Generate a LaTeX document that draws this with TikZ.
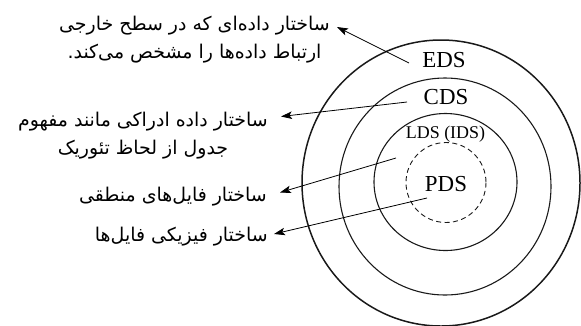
\documentclass[tikz,border=0pt]{standalone}
\usepackage{fontspec}
\setmainfont{Liberation Serif}
\newfontfamily\fafont[Script=Arabic]{DejaVu Sans}
\TeXXeTstate=1
\usetikzlibrary{arrows.meta}

\tikzset{
  ring/.style={draw=black!90, line width=1.1pt},
  outerring/.style={draw=black!90, line width=1.5pt},
  corering/.style={draw=black!90, line width=0.9pt, dash pattern=on 5pt off 3.5pt},
  layer/.style={font=\fontsize{23}{23}\selectfont, inner sep=0pt},
  smalllayer/.style={font=\fontsize{18}{18}\selectfont, inner sep=0pt},
  desc/.style={font=\fafont\fontsize{19}{28}\selectfont, align=center, inner sep=0pt},
  pointer/.style={draw=black, line width=0.8pt, -{Stealth[length=11pt, width=7.5pt, inset=2.5pt]}}
}

\begin{document}
\begin{tikzpicture}[x=1bp, y=-1bp]
  \useasboundingbox (0,0) rectangle (581,325);

  % nested data-structure rings
  \draw[outerring] (441,183) ellipse [x radius=139, y radius=143];
  \draw[ring] (445,186.5) ellipse [x radius=106, y radius=108.5];
  \draw[ring] (445.5,182) ellipse [x radius=71.5, y radius=68.5];
  \draw[corering] (446,182.5) circle [radius=40];

  % ring labels
  \node[layer] (eds) at (444,60) {EDS};
  \node[layer] (cds) at (446,97.5) {CDS};
  \node[smalllayer] (lds) at (445.5,134) {LDS (IDS)};
  \node[layer] (pds) at (446,184.5) {PDS};

  % descriptions
  \node[desc, anchor=east] (dext) at (330,40) {\beginR ساختار داده‌ای که در سطح خارجی\endR\\\beginR ارتباط داده‌ها را مشخص می‌کند.\endR};
  \node[desc, anchor=east] (dcon) at (268,135.5) {\beginR ساختار داده ادراکی مانند مفهوم\endR\\\beginR جدول از لحاظ تئوریک\endR};
  \node[desc, anchor=east] (dlog) at (267,197) {\beginR ساختار فایل‌های منطقی\endR};
  \node[desc, anchor=east] (dphy) at (268,237) {\beginR ساختار فیزیکی فایل‌ها\endR};

  % pointer ends
  \coordinate (seds) at (409,63);
  \coordinate (scds) at (407,102);
  \coordinate (slds) at (396,158);
  \coordinate (spds) at (427,198);
  \coordinate (teds) at (337,27);
  \coordinate (tcds) at (281,116.5);
  \coordinate (tlds) at (280,192.5);
  \coordinate (tpds) at (274,234);

  \draw[pointer] (seds) -- (teds);
  \draw[pointer] (scds) -- (tcds);
  \draw[pointer] (slds) -- (tlds);
  \draw[pointer] (spds) -- (tpds);
\end{tikzpicture}
\end{document}
